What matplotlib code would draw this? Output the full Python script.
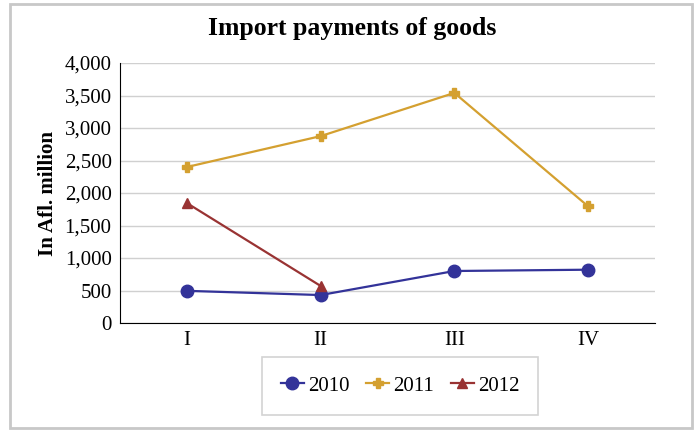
import matplotlib.pyplot as plt
from matplotlib.patches import Rectangle
from matplotlib.ticker import FuncFormatter

plt.rcParams['font.family'] = ['Liberation Serif', 'DejaVu Serif']

quarters = ["I", "II", "III", "IV"]
v2010 = [495, 430, 800, 820]
v2011 = [2400, 2875, 3540, 1795]
v2012 = [1845, 570]

fig = plt.figure(figsize=(7, 4.32), dpi=100)
ax = fig.add_axes([120/700, 1 - 323/432, 535/700, 260/432])

# grey frame round the whole chart
fig.patches.append(Rectangle((10/700, 4/432), 682/700, 424/432, transform=fig.transFigure,
                             fill=False, edgecolor='#c8c8c8', lw=2))

x = range(len(quarters))
ax.plot(x, v2010, color='#333399', lw=1.6, marker='o', ms=9, label='2010')
ax.plot(x, v2011, color='#D4A030', lw=1.6, marker='P', ms=7.5, label='2011')
ax.plot(range(len(v2012)), v2012, color='#993333', lw=1.6, marker='^', ms=7.5, label='2012')

ax.set_xlim(-0.5, 3.5)
ax.set_ylim(0, 4000)
ax.set_yticks(range(0, 4001, 500))
ax.yaxis.set_major_formatter(FuncFormatter(lambda v, p: f"{int(v):,}"))
ax.set_xticks(list(x))
ax.set_xticklabels(quarters)
ax.tick_params(axis='both', length=0, labelsize=15, pad=6)
ax.grid(axis='y', color='#d0d0d0', lw=1)
ax.set_axisbelow(True)
for s in ['top', 'right']:
    ax.spines[s].set_visible(False)
ax.spines['left'].set_color('black')
ax.spines['bottom'].set_color('black')

ax.set_ylabel("In Afl. million", fontsize=15, fontweight='bold', labelpad=5)
fig.text(352/700, 1 - 28/432, "Import payments of goods", ha='center', va='center',
         fontsize=18.5, fontweight='bold')

leg = ax.legend(loc='center', bbox_to_anchor=(400/700, 1 - 386/432), bbox_transform=fig.transFigure,
                ncol=3, frameon=True, fancybox=False, fontsize=15, handlelength=1.1,
                handletextpad=0.2, columnspacing=0.8, borderpad=0.9)
leg.get_frame().set_edgecolor('#c8c8c8')
leg.get_frame().set_linewidth(1.2)

fig.savefig("out.png", dpi=100)
